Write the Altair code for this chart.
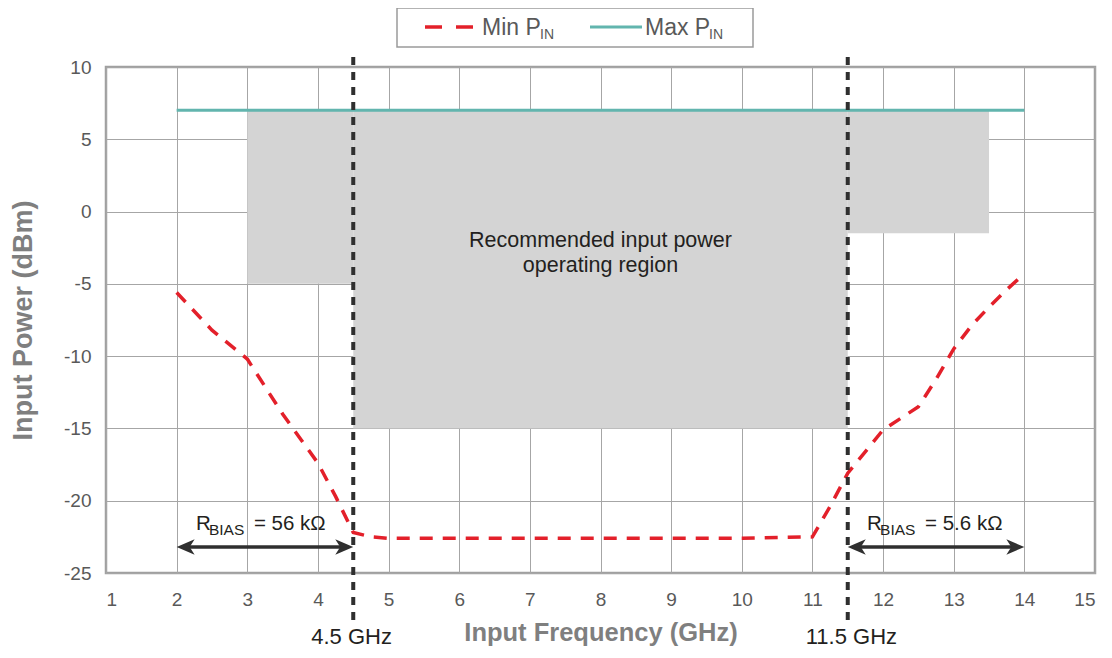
import altair as alt
import pandas as pd

# ---------------- data ----------------
freq_min = [2, 2.5, 3, 3.5, 4, 4.25, 4.5, 4.75, 5, 6, 7, 8, 9, 10, 11,
            11.25, 11.5, 11.75, 12, 12.25, 12.5, 12.75, 13, 13.25, 13.5, 13.75, 14]
pin_min = [-5.6, -8.2, -10.2, -14.0, -17.4, -19.7, -22.2, -22.5, -22.6, -22.6, -22.6,
           -22.6, -22.6, -22.6, -22.5, -20.4, -18.1, -16.6, -15.1, -14.3, -13.5,
           -11.6, -9.5, -7.9, -6.6, -5.4, -4.3]

freq_max = [2, 14]
pin_max = [7, 7]

region_x1 = [3, 4.5, 11.5]
region_x2 = [4.5, 11.5, 13.5]
region_top = [7, 7, 7]
region_bottom = [-5, -15, -1.5]

band_edges = [4.5, 11.5]
band_labels = ["4.5 GHz", "11.5 GHz"]

rbias_from = [2, 11.5]
rbias_to = [4.5, 14]
rbias_values = ["= 56 kΩ", "= 5.6 kΩ"]

x_ticks = list(range(1, 16))
y_ticks = [-25, -20, -15, -10, -5, 0, 5, 10]

region_text = "Recommended input power\noperating region"

# ---------------- tables ----------------
df_min = pd.DataFrame({"f": freq_min, "p": pin_min})
df_max = pd.DataFrame({"f": freq_max, "p": pin_max})
df_reg = pd.DataFrame({"x1": region_x1, "x2": region_x2, "top": region_top, "bot": region_bottom})
df_band = pd.DataFrame({"f": band_edges, "label": band_labels})
df_rb = pd.DataFrame({"a": rbias_from, "b": rbias_to, "val": rbias_values})
df_rb["mid"] = (df_rb["a"] + df_rb["b"]) / 2
df_txt = pd.DataFrame({"x": [(region_x1[1] + region_x2[1]) / 2], "t": [region_text]})
one = pd.DataFrame({"k": [0]})

W, H = 989, 506
FONT = "Liberation Sans"
RED = "#e3202a"
TEAL = "#62b5ae"
DARK = "#2f2f2f"
TXT = "#231f20"

xs = alt.Scale(domain=[1, 15], nice=False, zero=False)
ys = alt.Scale(domain=[-25, 10], nice=False, zero=False)

x_axis = alt.Axis(values=x_ticks, title="Input Frequency (GHz)", grid=True, ticks=False,
                  domain=False, labelPadding=17, titlePadding=11, titleFontSize=25.5,
                  labelExpr="'' + datum.value")
y_axis = alt.Axis(values=y_ticks, title="Input Power (dBm)", grid=True, ticks=False,
                  domain=False, labelPadding=15, titlePadding=26, titleFontSize=27,
                  labelExpr="'' + datum.value")

regions = alt.Chart(df_reg).mark_rect(color="#d4d4d4").encode(
    x=alt.X("x1:Q", scale=xs, axis=x_axis),
    x2="x2:Q",
    y=alt.Y("top:Q", scale=ys, axis=y_axis),
    y2="bot:Q",
)

max_line = alt.Chart(df_max).mark_line(color=TEAL, strokeWidth=3).encode(
    x=alt.X("f:Q", scale=xs), y=alt.Y("p:Q", scale=ys))

min_line = alt.Chart(df_min).mark_line(color=RED, strokeWidth=3.5, strokeDash=[13, 10]).encode(
    x=alt.X("f:Q", scale=xs), y=alt.Y("p:Q", scale=ys))

band_rules = alt.Chart(df_band).mark_rule(color=DARK, strokeWidth=4, strokeDash=[8, 7]).encode(
    x=alt.X("f:Q", scale=xs), y=alt.value(-10), y2=alt.value(555))

band_text = alt.Chart(df_band).mark_text(font=FONT, fontSize=22, color=TXT,
                                         baseline="middle", align="left", dx=-42).encode(
    x=alt.X("f:Q", scale=xs), y=alt.value(570), text="label:N")

region_label = alt.Chart(df_txt).mark_text(font=FONT, fontSize=21.5, color=TXT,
                                           lineBreak="\n", lineHeight=25,
                                           baseline="alphabetic", align="center").encode(
    x=alt.X("x:Q", scale=xs), y=alt.value(180), text="t:N")

# R_BIAS arrows
arrow_y = alt.value(480)
arrow_shaft = alt.Chart(df_rb).mark_rule(color=DARK, strokeWidth=3.5, xOffset=8, x2Offset=-8).encode(
    x=alt.X("a:Q", scale=xs), x2="b:Q", y=arrow_y)
head_left = alt.Chart(df_rb).mark_point(shape="M0,0 L2,-0.85 L1.45,0 L2,0.85 Z", size=324,
                                        filled=True, color=DARK, opacity=1).encode(
    x=alt.X("a:Q", scale=xs), y=arrow_y)
head_right = alt.Chart(df_rb).mark_point(shape="M0,0 L-2,-0.85 L-1.45,0 L-2,0.85 Z", size=324,
                                         filled=True, color=DARK, opacity=1).encode(
    x=alt.X("b:Q", scale=xs), y=arrow_y)

rb_R = alt.Chart(df_rb).mark_text(text="R", font=FONT, fontSize=20.5, color=TXT,
                                  align="left", baseline="alphabetic", dx=-69).encode(
    x=alt.X("mid:Q", scale=xs), y=alt.value(463))
rb_sub = alt.Chart(df_rb).mark_text(text="BIAS", font=FONT, fontSize=15.5, color=TXT,
                                    align="left", baseline="alphabetic", dx=-56).encode(
    x=alt.X("mid:Q", scale=xs), y=alt.value(468))
rb_val = alt.Chart(df_rb).mark_text(font=FONT, fontSize=20.5, color=TXT,
                                    align="left", baseline="alphabetic", dx=-11).encode(
    x=alt.X("mid:Q", scale=xs), y=alt.value(463), text="val:N")

# legend (custom, to allow subscripts)
leg_box = alt.Chart(one).mark_rect(fill="white", stroke="#9a9a9a", strokeWidth=1.5).encode(
    x=alt.value(291), x2=alt.value(647), y=alt.value(-59), y2=alt.value(-20))
leg_red = alt.Chart(one).mark_rule(color=RED, strokeWidth=3.5, strokeDash=[17, 14]).encode(
    x=alt.value(319), x2=alt.value(367), y=alt.value(-40))
leg_teal = alt.Chart(one).mark_rule(color=TEAL, strokeWidth=3).encode(
    x=alt.value(484), x2=alt.value(536), y=alt.value(-40))
leg_t1 = alt.Chart(one).mark_text(text="Min P", font=FONT, fontSize=23, color="#595959",
                                  align="left", baseline="alphabetic").encode(
    x=alt.value(376), y=alt.value(-32))
leg_s1 = alt.Chart(one).mark_text(text="IN", font=FONT, fontSize=14, color="#595959",
                                  align="left", baseline="alphabetic").encode(
    x=alt.value(434), y=alt.value(-28))
leg_t2 = alt.Chart(one).mark_text(text="Max P", font=FONT, fontSize=23, color="#595959",
                                  align="left", baseline="alphabetic").encode(
    x=alt.value(539), y=alt.value(-32))
leg_s2 = alt.Chart(one).mark_text(text="IN", font=FONT, fontSize=14, color="#595959",
                                  align="left", baseline="alphabetic").encode(
    x=alt.value(603), y=alt.value(-28))

chart = alt.layer(
    regions, max_line, min_line, band_rules, band_text, region_label,
    arrow_shaft, head_left, head_right, rb_R, rb_sub, rb_val,
    leg_box, leg_red, leg_teal, leg_t1, leg_s1, leg_t2, leg_s2,
).properties(
    width=W, height=H,
    autosize=alt.AutoSizeParams(type="none"),
    padding={"left": 98, "top": 59, "right": 5, "bottom": 77},
).configure_view(
    stroke="#a0a0a0", strokeWidth=2.5
).configure_axis(
    zindex=1,
    gridColor="#a6a6a6", gridWidth=1, gridOpacity=1,
    labelFont=FONT, labelFontSize=19, labelColor="#595959",
    titleFont=FONT, titleFontWeight="bold", titleColor="#7f7f7f",
)

chart.save("out.html", embed_options={"renderer": "svg", "actions": False})
